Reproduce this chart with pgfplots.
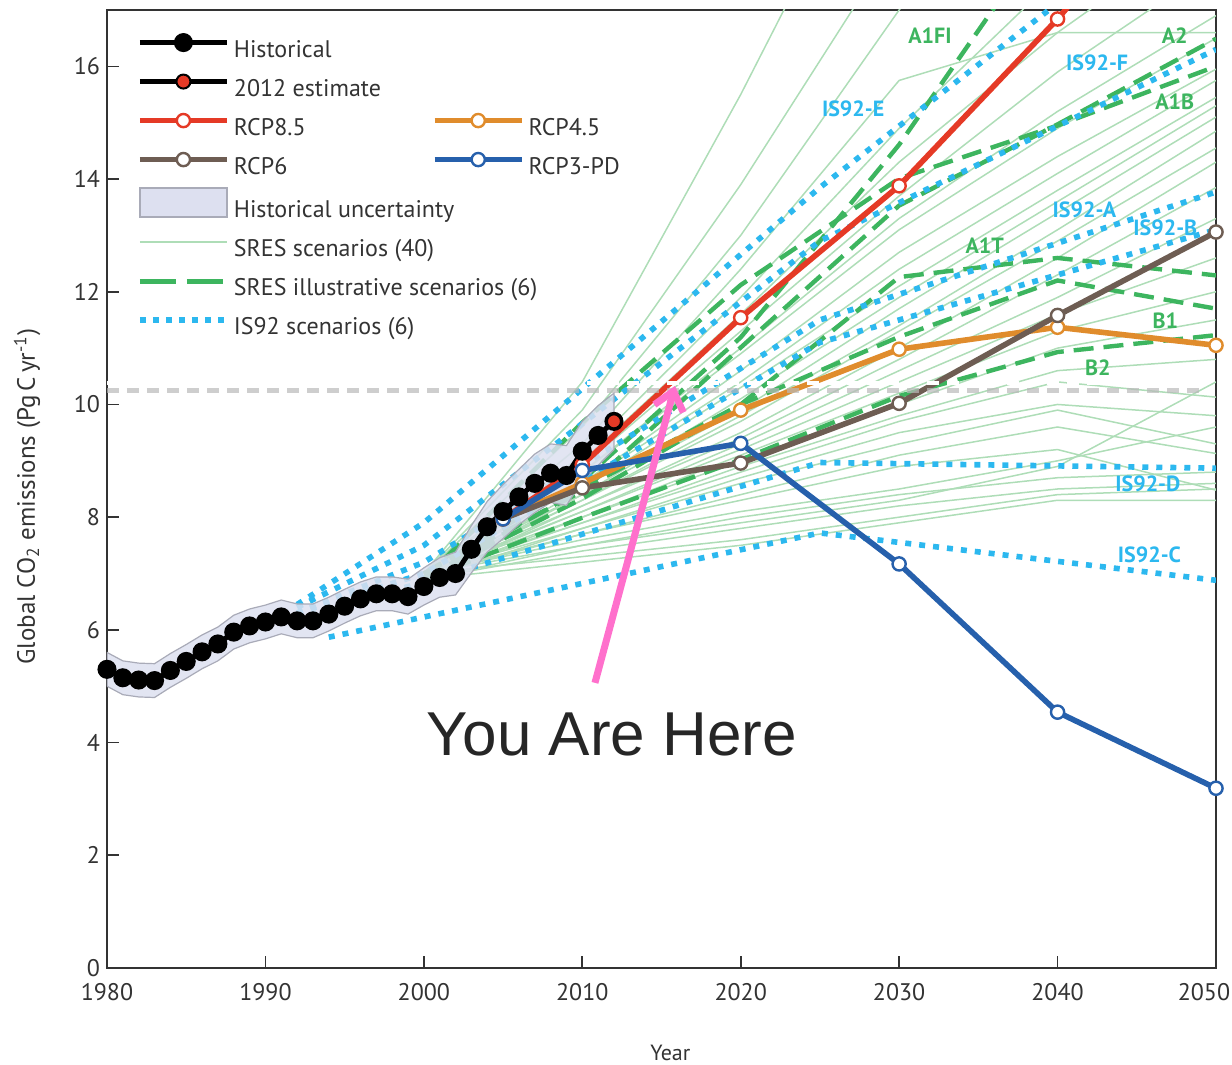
\documentclass[border=0pt]{standalone}
\usepackage{pgfplots}
\pgfplotsset{compat=1.18}
\usepackage{fontspec}
\setmainfont{PT Sans}
\newfontfamily\yahfont{Liberation Sans}
\usetikzlibrary{arrows.meta}
\definecolor{rcpred}{HTML}{E53A26}
\definecolor{rcpbrown}{HTML}{6E5D53}
\definecolor{rcporange}{HTML}{E08C2C}
\definecolor{rcpblue}{HTML}{2660AC}
\definecolor{sresgreen}{HTML}{3DB55F}
\definecolor{sresthin}{HTML}{AEDDB7}
\definecolor{isblue}{HTML}{2CB8EF}
\definecolor{bandfill}{HTML}{DDE0F0}
\definecolor{bandedge}{HTML}{A9ABB8}
\definecolor{pinkarrow}{HTML}{FF70CC}
\definecolor{txt}{HTML}{333333}
\pgfplotsset{
  thin/.style={sresthin, line width=0.75pt, forget plot},
  illus/.style={sresgreen, line width=2.2pt, dash pattern=on 10pt off 5pt, forget plot},
  isdot/.style={isblue, line width=2.8pt, dash pattern=on 3pt off 4pt, forget plot},
  rcp/.style={line width=2.8pt, mark=*, mark size=3.3pt, mark options={solid, fill=white, draw=#1, line width=1.2pt}, color=#1, forget plot},
}
\begin{document}
\begin{tikzpicture}
\path[use as bounding box] (-53.5pt,-48.5pt) rectangle (562.5pt,484pt);
\begin{axis}[
  scale only axis, width=554.5pt, height=479pt,
  xmin=1980, xmax=2050, ymin=0, ymax=17,
  xtick={1980,1990,...,2050}, ytick={0,2,...,16},
  xticklabels={1980,1990,2000,2010,2020,2030,2040,\hspace*{-12pt}2050},
  tick align=inside, tick pos=left, major tick length=6pt,
  axis line style={txt, line width=1pt},
  every tick/.style={txt, line width=0.8pt},
  ticklabel style={font=\fontsize{12}{14}\selectfont, text=txt},
  xticklabel style={yshift=-4pt},
  /pgf/number format/assume math mode=true,
  /pgf/number format/set thousands separator={},
  scaled ticks=false,
  xlabel={Year},
  xlabel style={at={(axis description cs:0.508,-0.0887)}, anchor=center, font=\fontsize{11}{13}\selectfont, text=txt},
  ylabel={Global CO\textsubscript{2} emissions (Pg\,C\,yr\textsuperscript{-1})},
  ylabel style={at={(axis description cs:-0.072,0.492)}, anchor=center, font=\fontsize{12.5}{14}\selectfont, text=txt},
  legend columns=2,
  legend cell align=left,
  legend style={at={(axis description cs:0.027,0.978)}, anchor=north west, draw=none, fill=none,
    inner sep=0pt, outer sep=0pt, font=\fontsize{12}{14}\selectfont, text=txt,
    nodes={inner sep=0pt, text height=13pt, text depth=6.5pt},
    column sep=0pt, row sep=0pt},
  legend image code/.code={\draw[mark repeat=2,mark phase=2,#1] plot coordinates {(0pt,4pt) (21.75pt,4pt) (43.5pt,4pt)};},
]
% ---- SRES scenarios (thin) ----
\addplot[thin] coordinates {(2000,7.0)(2010,10.4)(2020,15.5)(2030,21)(2040,26)(2050,30)};
\addplot[thin] coordinates {(2000,7.0)(2010,9.9)(2020,13.9)(2030,18.3)(2040,22)(2050,25)};
\addplot[thin] coordinates {(2000,7.0)(2010,9.6)(2020,13.0)(2030,17.0)(2040,20.5)(2050,23.5)};
\addplot[thin] coordinates {(2000,7.0)(2010,9.3)(2020,12.4)(2030,15.75)(2040,16.6)(2050,16.6)};
\addplot[thin] coordinates {(2000,7.0)(2010,9.1)(2020,11.9)(2030,14.9)(2040,17.6)(2050,20.0)};
\addplot[thin] coordinates {(2000,7.0)(2010,9.0)(2020,11.6)(2030,14.3)(2040,16.6)(2050,18.6)};
\addplot[thin] coordinates {(2000,6.95)(2010,8.9)(2020,11.3)(2030,13.7)(2040,15.9)(2050,17.8)};
\addplot[thin] coordinates {(2000,6.95)(2010,8.8)(2020,11.0)(2030,13.3)(2040,15.2)(2050,16.9)};
\addplot[thin] coordinates {(2000,7.0)(2010,8.8)(2020,10.9)(2030,13.1)(2040,14.9)(2050,16.5)};
\addplot[thin] coordinates {(2000,6.95)(2010,8.6)(2020,10.6)(2030,12.7)(2040,14.4)(2050,15.95)};
\addplot[thin] coordinates {(2000,7.0)(2010,8.6)(2020,10.4)(2030,12.4)(2040,14.1)(2050,15.75)};
\addplot[thin] coordinates {(2000,6.9)(2010,8.5)(2020,10.3)(2030,12.1)(2040,13.8)(2050,15.45)};
\addplot[thin] coordinates {(2000,7.0)(2010,8.4)(2020,10.1)(2030,11.9)(2040,13.6)(2050,15.3)};
\addplot[thin] coordinates {(2000,6.9)(2010,8.4)(2020,9.9)(2030,11.7)(2040,13.4)(2050,15.1)};
\addplot[thin] coordinates {(2000,7.0)(2010,8.3)(2020,9.8)(2030,11.4)(2040,13.1)(2050,14.85)};
\addplot[thin] coordinates {(2000,6.95)(2010,8.3)(2020,9.7)(2030,11.3)(2040,12.9)(2050,14.55)};
\addplot[thin] coordinates {(2000,7.0)(2010,8.2)(2020,9.5)(2030,11.0)(2040,12.6)(2050,14.3)};
\addplot[thin] coordinates {(2000,6.9)(2010,8.2)(2020,9.4)(2030,10.8)(2040,12.3)(2050,13.85)};
\addplot[thin] coordinates {(2000,7.0)(2010,8.1)(2020,9.3)(2030,10.6)(2040,11.9)(2050,13.3)};
\addplot[thin] coordinates {(2000,6.95)(2010,8.1)(2020,9.2)(2030,10.4)(2040,11.6)(2050,12.6)};
\addplot[thin] coordinates {(2000,7.0)(2010,8.0)(2020,9.1)(2030,10.2)(2040,11.3)(2050,12.0)};
\addplot[thin] coordinates {(2000,6.9)(2010,8.0)(2020,9.0)(2030,10.0)(2040,11.0)(2050,11.5)};
\addplot[thin] coordinates {(2000,7.0)(2010,7.9)(2020,8.9)(2030,9.8)(2040,10.6)(2050,10.8)};
\addplot[thin] coordinates {(2000,6.95)(2010,7.9)(2020,8.8)(2030,9.7)(2040,10.4)(2050,10.13)};
\addplot[thin] coordinates {(2000,7.0)(2010,7.8)(2020,8.7)(2030,9.5)(2040,10.0)(2050,9.8)};
\addplot[thin] coordinates {(2000,6.9)(2010,7.8)(2020,8.6)(2030,9.3)(2040,9.9)(2050,9.3)};
\addplot[thin] coordinates {(2000,7.0)(2010,7.7)(2020,8.4)(2030,9.1)(2040,9.6)(2050,9.13)};
\addplot[thin] coordinates {(2000,6.95)(2010,7.7)(2020,8.3)(2030,8.9)(2040,9.2)(2050,8.48)};
\addplot[thin] coordinates {(2000,7.0)(2010,7.6)(2020,8.1)(2030,8.5)(2040,9.0)(2050,9.6)};
\addplot[thin] coordinates {(2000,6.9)(2010,7.5)(2020,8.0)(2030,8.4)(2040,8.7)(2050,8.8)};
\addplot[thin] coordinates {(2000,7.0)(2010,7.5)(2020,7.9)(2030,8.3)(2040,8.9)(2050,10.4)};
\addplot[thin] coordinates {(2000,6.9)(2010,7.4)(2020,7.8)(2030,8.2)(2040,8.5)(2050,8.6)};
\addplot[thin] coordinates {(2000,7.0)(2010,7.3)(2020,7.6)(2030,8.0)(2040,8.4)(2050,8.5)};
\addplot[thin] coordinates {(2000,6.9)(2010,7.2)(2020,7.5)(2030,7.9)(2040,8.3)(2050,8.3)};
% ---- SRES illustrative ----
\addplot[illus] coordinates {(2000,7.0)(2010,8.65)(2020,11.19)(2030,14.61)(2040,18.66)(2050,23.1)}; % A1FI
\addplot[illus] coordinates {(2000,6.9)(2010,9.68)(2020,12.12)(2030,14.01)(2040,14.95)(2050,16.0)}; % A1B
\addplot[illus] coordinates {(2000,6.9)(2010,8.33)(2020,10.0)(2030,12.26)(2040,12.6)(2050,12.29)}; % A1T
\addplot[illus] coordinates {(2000,7.0)(2010,8.46)(2020,11.01)(2030,13.53)(2040,14.97)(2050,16.49)}; % A2
\addplot[illus] coordinates {(2000,6.9)(2010,8.5)(2020,10.0)(2030,11.2)(2040,12.2)(2050,11.7)}; % B1
\addplot[illus] coordinates {(2000,6.9)(2010,7.99)(2020,9.02)(2030,10.15)(2040,10.93)(2050,11.23)}; % B2
% ---- IS92 ----
\addplot[isdot] coordinates {(1992,6.45)(2000,7.9)(2025,13.85)(2050,19.3)}; % E
\addplot[isdot] coordinates {(1992,6.4)(2000,7.5)(2025,12.9)(2050,16.3)}; % F
\addplot[isdot] coordinates {(1992,6.3)(2000,7.2)(2025,11.5)(2050,13.77)}; % A
\addplot[isdot] coordinates {(1992,6.3)(2000,7.0)(2025,11.1)(2050,13.1)}; % B
\addplot[isdot] coordinates {(1992,6.2)(2000,6.85)(2025,8.97)(2050,8.87)}; % D
\addplot[isdot] coordinates {(1994,5.87)(2025,7.72)(2050,6.88)}; % C
% ---- historical uncertainty ----
\addplot[fill=bandfill, draw=bandedge, line width=0.6pt, fill opacity=0.85, forget plot] coordinates {
(1980,5.60)(1981,5.45)(1982,5.41)(1983,5.40)(1984,5.58)(1985,5.74)(1986,5.91)(1987,6.05)(1988,6.26)(1989,6.37)
(1990,6.44)(1991,6.53)(1992,6.46)(1993,6.46)(1994,6.58)(1995,6.72)(1996,6.85)(1997,6.94)(1998,6.94)(1999,6.90)
(2000,7.10)(2001,7.28)(2002,7.38)(2003,7.85)(2004,8.28)(2005,8.58)(2006,8.85)(2007,9.12)(2008,9.30)(2009,9.27)
(2010,9.70)(2011,9.98)(2012,10.2)
(2012,9.2)(2011,8.92)(2010,8.64)(2009,8.21)(2008,8.26)(2007,8.08)(2006,7.87)(2005,7.62)(2004,7.38)(2003,7.01)
(2002,6.62)(2001,6.58)(2000,6.44)(1999,6.28)(1998,6.34)(1997,6.34)(1996,6.25)(1995,6.12)(1994,5.98)(1993,5.86)
(1992,5.86)(1991,5.93)(1990,5.84)(1989,5.77)(1988,5.66)(1987,5.45)(1986,5.31)(1985,5.14)(1984,4.98)(1983,4.80)
(1982,4.81)(1981,4.85)(1980,5.00)} -- cycle;
% ---- RCPs ----
\addplot[rcp=rcpred] coordinates {(2005,7.97)(2010,8.93)(2020,11.54)(2030,13.88)(2040,16.84)(2050,20.15)};
\addplot[rcp=rcporange] coordinates {(2005,7.97)(2010,8.6)(2020,9.9)(2030,10.98)(2040,11.37)(2050,11.05)};
\addplot[rcp=rcpbrown] coordinates {(2005,7.97)(2010,8.52)(2020,8.96)(2030,10.02)(2040,11.58)(2050,13.06)};
\addplot[rcp=rcpblue] coordinates {(2005,7.97)(2010,8.83)(2020,9.31)(2030,7.17)(2040,4.54)(2050,3.19)};
% ---- historical ----
\addplot[black, line width=2.5pt, mark=*, mark size=3.5pt, forget plot] coordinates {
(1980,5.30)(1981,5.15)(1982,5.11)(1983,5.10)(1984,5.28)(1985,5.44)(1986,5.61)(1987,5.75)(1988,5.96)(1989,6.07)
(1990,6.14)(1991,6.23)(1992,6.16)(1993,6.16)(1994,6.28)(1995,6.42)(1996,6.55)(1997,6.64)(1998,6.64)(1999,6.59)
(2000,6.77)(2001,6.93)(2002,7.00)(2003,7.43)(2004,7.83)(2005,8.10)(2006,8.36)(2007,8.60)(2008,8.78)(2009,8.74)
(2010,9.17)(2011,9.45)(2012,9.70)};
\addplot[black, only marks, mark=*, mark size=3.5pt, mark options={fill=rcpred, draw=black, line width=1pt}, forget plot] coordinates {(2012,9.70)};
% ---- annotation: dashed line ----
\addplot[gray!55, line width=2.5pt, dash pattern=on 6pt off 4pt, opacity=0.7, forget plot] coordinates {(1980,10.25)(2049.3,10.25)};
\addplot[white, line width=2pt, dash pattern=on 6pt off 4pt, forget plot] coordinates {(1980,10.38)(2049.3,10.38)};
% ---- scenario labels ----
\begin{scope}[every node/.style={font=\bfseries\fontsize{11}{13}\selectfont}]
\node[text=sresgreen] at (axis cs:2031.95,16.55) {A1FI};
\node[text=sresgreen] at (axis cs:2047.4,16.55) {A2};
\node[text=isblue] at (axis cs:2042.5,16.07) {IS92-F};
\node[text=isblue] at (axis cs:2027.1,15.25) {IS92-E};
\node[text=sresgreen] at (axis cs:2047.4,15.38) {A1B};
\node[text=isblue] at (axis cs:2041.7,13.45) {IS92-A};
\node[text=isblue] at (axis cs:2046.8,13.13) {IS92-B};
\node[text=sresgreen] at (axis cs:2035.4,12.82) {A1T};
\node[text=sresgreen] at (axis cs:2046.8,11.49) {B1};
\node[text=sresgreen] at (axis cs:2042.55,10.66) {B2};
\node[text=isblue] at (axis cs:2045.7,8.59) {IS92-D};
\node[text=isblue] at (axis cs:2045.8,7.34) {IS92-C};
\end{scope}
% ---- You Are Here ----
\draw[pinkarrow, line width=3.5pt, -{Straight Barb[length=9pt,width=15pt]}] (axis cs:2010.8,5.06) -- (axis cs:2015.85,10.33);
\node[font=\yahfont\fontsize{31}{36}\selectfont, text=black!85] at (axis cs:2011.87,4.15) {You Are Here};
% ---- legend ----
\addlegendimage{black, line width=2.5pt, mark=*, mark size=3.5pt}
\addlegendentry{\hspace*{2pt}\makebox[99pt][l]{Historical}}
\addlegendimage{empty legend}\addlegendentry{}
\addlegendimage{black, line width=2.5pt, mark=*, mark size=3.5pt, mark options={fill=rcpred, draw=black, line width=1pt}}
\addlegendentry{\hspace*{2pt}\makebox[99pt][l]{2012 estimate}}
\addlegendimage{empty legend}\addlegendentry{}
\addlegendimage{rcpred, line width=2.8pt, mark=*, mark size=3.3pt, mark options={fill=white, draw=rcpred, line width=1.2pt}}
\addlegendentry{\hspace*{2pt}\makebox[99pt][l]{RCP8.5}}
\addlegendimage{rcporange, line width=2.8pt, mark=*, mark size=3.3pt, mark options={fill=white, draw=rcporange, line width=1.2pt}}
\addlegendentry{\hspace*{2pt}RCP4.5}
\addlegendimage{rcpbrown, line width=2.8pt, mark=*, mark size=3.3pt, mark options={fill=white, draw=rcpbrown, line width=1.2pt}}
\addlegendentry{\hspace*{2pt}\makebox[99pt][l]{RCP6}}
\addlegendimage{rcpblue, line width=2.8pt, mark=*, mark size=3.3pt, mark options={fill=white, draw=rcpblue, line width=1.2pt}}
\addlegendentry{\hspace*{2pt}RCP3-PD}
\addlegendimage{legend image code/.code={\draw[fill=bandfill, draw=bandedge, line width=1pt] (0pt,-3pt) rectangle (43.5pt,11.5pt);}}
\addlegendentry{\hspace*{2pt}\makebox[99pt][l]{Historical uncertainty}}
\addlegendimage{empty legend}\addlegendentry{}
\addlegendimage{sresthin, line width=0.75pt}
\addlegendentry{\hspace*{2pt}\makebox[99pt][l]{SRES scenarios (40)}}
\addlegendimage{empty legend}\addlegendentry{}
\addlegendimage{sresgreen, line width=2.5pt, dash pattern=on 18pt off 5.5pt}
\addlegendentry{\hspace*{2pt}\makebox[99pt][l]{SRES illustrative scenarios (6)}}
\addlegendimage{empty legend}\addlegendentry{}
\addlegendimage{isblue, line width=3pt, dash pattern=on 3pt off 3.5pt}
\addlegendentry{\hspace*{2pt}\makebox[99pt][l]{IS92 scenarios (6)}}
\addlegendimage{empty legend}\addlegendentry{}
\end{axis}
\end{tikzpicture}
\end{document}
